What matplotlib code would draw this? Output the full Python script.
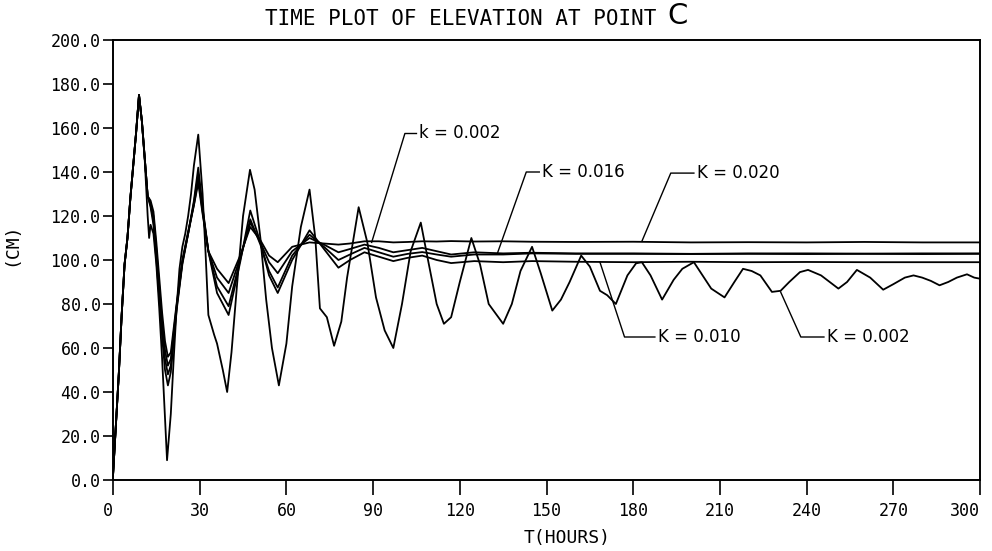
import numpy as np
import matplotlib
matplotlib.use("Agg")
import matplotlib.pyplot as plt

# time grid (hours) for the four damped runs
t_damped = [0, 1, 2, 3, 4, 5, 6, 7, 8, 9, 10, 11, 12,
            13, 14, 15, 16, 17, 18, 19, 20,
            22, 24, 26, 28, 29.5,
            31, 33, 36, 40, 44, 47.5,
            51, 54, 57, 62, 68, 73,
            78, 82, 87, 92, 97, 102,
            107, 112, 117, 125, 135, 145,
            160, 180, 200, 220, 240, 260, 280, 300]

start = [2, 25, 48, 75, 98, 110, 128, 143, 158, 175, 163, 146, 129]

elev_k020 = start + [127, 122, 108, 92, 76, 63, 56, 58,
                     80, 100, 113, 125, 135,
                     121, 104, 96, 89.5, 102, 115,
                     109, 102, 99, 106, 108, 107.5,
                     107, 107.5, 108.5, 108.5, 108, 108.2,
                     108.5, 108.4, 108.6, 108.4, 108.5, 108.3,
                     108.2, 108.3, 108, 108.1, 108, 108.2, 108, 108]

elev_k016 = start + [126, 120, 105, 88, 72, 59, 52, 55,
                     79, 99, 112, 125, 137,
                     122, 104, 92, 85, 101, 117,
                     108, 99, 94, 104, 110, 107,
                     103.5, 105, 107, 105.5, 103.5, 104.5,
                     105.5, 104, 102.5, 103.5, 103, 103.3,
                     103, 103, 102.8, 103, 103, 102.9, 103, 103]

elev_k_mid = start + [125, 118, 103, 86, 69, 55, 48, 52,
                      78, 99, 112, 126, 139,
                      123, 104, 88, 79, 100, 118.5,
                      107, 95, 87.5, 102, 111.5, 106,
                      100, 102.5, 105.5, 103.5, 101.5, 102.8,
                      103.6, 102.5, 101.5, 102.5, 102.5, 103,
                      102.8, 102.8, 102.7, 102.8, 102.7, 102.8, 102.7, 102.8]

elev_k010 = start + [124, 116, 100, 83, 65, 50, 43, 49,
                     77, 98, 112, 127, 142,
                     124, 104, 85, 75, 99, 122.5,
                     108, 93, 85, 100, 113.5, 105,
                     96.5, 100, 103.5, 101.5, 99.5, 101,
                     102, 100, 98.6, 99.5, 99, 99.5,
                     99.2, 99, 99.2, 99, 99.1, 99, 99, 99]

# lightly damped run (K = 0.002)
t_k002 = [0, 1, 2, 3, 4, 5, 6, 7, 8, 9, 10, 11, 12, 12.5, 13, 14, 15, 16, 17, 18, 18.7,
          20, 21, 22, 23, 24, 25, 26, 27, 28, 29.5, 31, 32, 33, 35, 36, 38, 39.5,
          41, 43, 45, 47.4, 49, 51, 53, 55, 57.4, 60, 62, 65, 68, 70, 71.6, 74, 76.5,
          79, 81, 85, 88, 91, 94, 97, 100, 103, 106.5, 109, 112, 114.5, 117, 120,
          124, 127, 130, 135, 138, 141, 145, 148, 152, 155, 158, 162, 165, 168.5,
          171, 174, 178, 181, 183, 186, 190, 194, 197, 201, 204, 207, 211.6, 215,
          218, 221, 224, 228, 231, 234, 237.7, 240.5, 245, 251, 254, 257.4, 262,
          266.5, 270, 274, 277, 280, 283, 286, 289, 292, 295.5, 298, 300]
elev_k002 = [2, 25, 48, 75, 98, 110, 128, 143, 158, 175, 163, 145, 120, 110, 116, 112, 98, 78, 55, 28, 9,
             30, 55, 78, 96, 106, 112, 120, 130, 143, 157, 130, 104, 75, 66, 62, 50, 40,
             58, 90, 120, 141, 132, 110, 82, 60, 43, 62, 88, 115, 132, 110, 78, 74, 61,
             72, 92, 124, 108, 83, 68, 60, 80, 104, 117, 100, 80, 71, 74, 90,
             110, 98, 80, 71, 80, 95, 106, 94, 77, 82, 90, 102, 97, 86,
             84, 80, 93, 98.5, 99, 93, 82, 91, 96, 99, 93, 87, 83, 90,
             96, 95, 93, 85.5, 86, 90, 94.5, 95.5, 93, 87, 90, 95.5, 92,
             86.5, 89, 92, 93, 92, 90.5, 88.5, 90, 92, 93.5, 92, 91.5]

# labels: text, text position, knee of leader, point on curve
labels = ["k = 0.002", "K = 0.016", "K = 0.020", "K = 0.010", "K = 0.002"]
label_xy = [(106, 157.5), (148.5, 140), (202, 139.5), (188.5, 65), (247, 65)]
knee_xy = [(101, 157.5), (143, 140), (193, 139.5), (177, 65), (238, 65)]
target_xy = [(89.5, 108), (133, 103), (183, 108.5), (168.5, 99), (231, 85.5)]

mono = 'DejaVu Sans Mono'

fig = plt.figure(figsize=(9.92, 5.51), dpi=100)
ax = fig.add_axes([113/992, 1 - 480/551, 867/992, 440/551])

lw = 1.3
for y in [elev_k020, elev_k016, elev_k_mid, elev_k010]:
    ax.plot(t_damped, y, color='black', lw=lw)
ax.plot(t_k002, elev_k002, color='black', lw=lw)

for lab, (tx, ty), (kx, ky), (px, py) in zip(labels, label_xy, knee_xy, target_xy):
    ax.plot([tx - 1, kx, px], [ty, ky, py], color='black', lw=1.0)
    ax.text(tx, ty, lab, fontsize=12, family='DejaVu Sans', ha='left', va='center')

ax.set_xlim(0, 300)
ax.set_ylim(0, 200)
ax.set_xticks(np.arange(0, 301, 30))
ax.set_yticks(np.arange(0, 201, 20))
ax.set_yticklabels(['%.1f' % v for v in np.arange(0, 201, 20)])
for lbl in ax.get_xticklabels() + ax.get_yticklabels():
    lbl.set_family(mono)
    lbl.set_fontsize(12)
ax.get_xticklabels()[-1].set_horizontalalignment('right')
ax.get_xticklabels()[0].set_horizontalalignment('right')
ax.tick_params(axis='y', direction='out', length=7, width=1.2, pad=2)
ax.tick_params(axis='x', direction='out', length=11, width=1.2, pad=5)
for s in ax.spines.values():
    s.set_linewidth(1.4)

ax.set_ylabel('(CM)', family=mono, fontsize=13)
ax.yaxis.set_label_coords(-0.107, 0.535)
ax.set_xlabel('T(HOURS)', family=mono, fontsize=13)
ax.xaxis.set_label_coords(0.524, -0.112)

ttl = fig.text(461/992, 1 - 19/551, 'TIME PLOT OF ELEVATION AT POINT',
               family=mono, fontsize=15, ha='center', va='center')
ax.annotate('C', xy=(1, 0), xycoords=ttl, xytext=(8, -1), textcoords='offset points',
            fontsize=21, family='DejaVu Sans', ha='left', va='bottom', annotation_clip=False)

fig.savefig('out.png', dpi=100)
